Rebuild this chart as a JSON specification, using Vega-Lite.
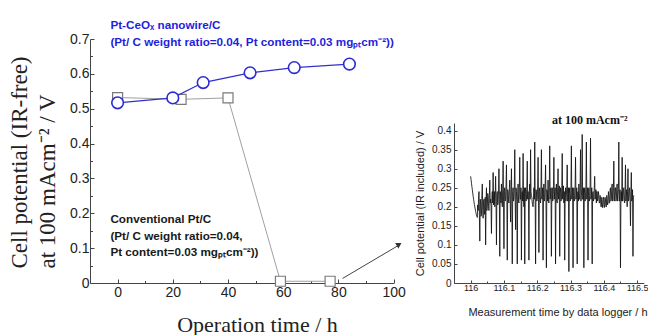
{
  "$schema": "https://vega.github.io/schema/vega-lite/v6.json",
  "padding": {"left": 8, "top": 20, "right": 0, "bottom": 0},
  "background": "white",
  "config": {"view": {"stroke": null}, "axis": {"labelOverlap": false, "grid": false}},
  "bounds": "flush",
  "spacing": 60,
  "datasets": {
    "main": [
      {"series": "Pt-CeOx nanowire/C", "t": 0, "v": 0.517},
      {"series": "Pt-CeOx nanowire/C", "t": 20, "v": 0.531},
      {"series": "Pt-CeOx nanowire/C", "t": 31, "v": 0.575},
      {"series": "Pt-CeOx nanowire/C", "t": 48, "v": 0.603},
      {"series": "Pt-CeOx nanowire/C", "t": 64, "v": 0.618},
      {"series": "Pt-CeOx nanowire/C", "t": 84, "v": 0.628},
      {"series": "Conventional Pt/C", "t": 0, "v": 0.532},
      {"series": "Conventional Pt/C", "t": 23, "v": 0.527},
      {"series": "Conventional Pt/C", "t": 40, "v": 0.531},
      {"series": "Conventional Pt/C", "t": 59, "v": 0.005},
      {"series": "Conventional Pt/C", "t": 77, "v": 0.005}
    ],
    "logger": [
      {"t": 116.00000, "v": 0.280}, {"t": 116.00125, "v": 0.271}, {"t": 116.00250, "v": 0.262}, {"t": 116.00375, "v": 0.253},
      {"t": 116.00500, "v": 0.245}, {"t": 116.00625, "v": 0.236}, {"t": 116.00750, "v": 0.228}, {"t": 116.00875, "v": 0.220},
      {"t": 116.01000, "v": 0.213}, {"t": 116.01125, "v": 0.206}, {"t": 116.01250, "v": 0.200}, {"t": 116.01375, "v": 0.194},
      {"t": 116.01500, "v": 0.188}, {"t": 116.01625, "v": 0.183}, {"t": 116.01750, "v": 0.178}, {"t": 116.01875, "v": 0.175},
      {"t": 116.02000, "v": 0.172}, {"t": 116.02125, "v": 0.205}, {"t": 116.02250, "v": 0.19}, {"t": 116.02375, "v": 0.22},
      {"t": 116.02500, "v": 0.24}, {"t": 116.02625, "v": 0.18}, {"t": 116.02750, "v": 0.11}, {"t": 116.02875, "v": 0.22},
      {"t": 116.03000, "v": 0.21}, {"t": 116.03125, "v": 0.175}, {"t": 116.03250, "v": 0.18}, {"t": 116.03375, "v": 0.23},
      {"t": 116.03500, "v": 0.26}, {"t": 116.03625, "v": 0.19}, {"t": 116.03750, "v": 0.17}, {"t": 116.03875, "v": 0.215},
      {"t": 116.04000, "v": 0.22}, {"t": 116.04125, "v": 0.18}, {"t": 116.04250, "v": 0.19}, {"t": 116.04375, "v": 0.225},
      {"t": 116.04500, "v": 0.10}, {"t": 116.04625, "v": 0.21}, {"t": 116.04750, "v": 0.25}, {"t": 116.04875, "v": 0.19},
      {"t": 116.05000, "v": 0.20}, {"t": 116.05125, "v": 0.235}, {"t": 116.05250, "v": 0.23}, {"t": 116.05375, "v": 0.20},
      {"t": 116.05500, "v": 0.19}, {"t": 116.05625, "v": 0.23}, {"t": 116.05750, "v": 0.27}, {"t": 116.05875, "v": 0.21},
      {"t": 116.06000, "v": 0.22}, {"t": 116.06125, "v": 0.20}, {"t": 116.06250, "v": 0.13}, {"t": 116.06375, "v": 0.225},
      {"t": 116.06500, "v": 0.24}, {"t": 116.06625, "v": 0.21}, {"t": 116.06750, "v": 0.29}, {"t": 116.06875, "v": 0.205},
      {"t": 116.07000, "v": 0.21}, {"t": 116.07125, "v": 0.24}, {"t": 116.07250, "v": 0.20}, {"t": 116.07375, "v": 0.23},
      {"t": 116.07500, "v": 0.28}, {"t": 116.07625, "v": 0.21}, {"t": 116.07750, "v": 0.10}, {"t": 116.07875, "v": 0.235},
      {"t": 116.08000, "v": 0.24}, {"t": 116.08125, "v": 0.205}, {"t": 116.08250, "v": 0.21}, {"t": 116.08375, "v": 0.245},
      {"t": 116.08500, "v": 0.30}, {"t": 116.08625, "v": 0.22}, {"t": 116.08750, "v": 0.07}, {"t": 116.08875, "v": 0.24},
      {"t": 116.09000, "v": 0.23}, {"t": 116.09125, "v": 0.21}, {"t": 116.09250, "v": 0.26}, {"t": 116.09375, "v": 0.22},
      {"t": 116.09500, "v": 0.20}, {"t": 116.09625, "v": 0.245}, {"t": 116.09750, "v": 0.32}, {"t": 116.09875, "v": 0.215},
      {"t": 116.10000, "v": 0.09}, {"t": 116.10125, "v": 0.24}, {"t": 116.10250, "v": 0.25}, {"t": 116.10375, "v": 0.215},
      {"t": 116.10500, "v": 0.22}, {"t": 116.10625, "v": 0.255}, {"t": 116.10750, "v": 0.31}, {"t": 116.10875, "v": 0.22},
      {"t": 116.11000, "v": 0.06}, {"t": 116.11125, "v": 0.245}, {"t": 116.11250, "v": 0.24}, {"t": 116.11375, "v": 0.215},
      {"t": 116.11500, "v": 0.21}, {"t": 116.11625, "v": 0.25}, {"t": 116.11750, "v": 0.27}, {"t": 116.11875, "v": 0.22},
      {"t": 116.12000, "v": 0.16}, {"t": 116.12125, "v": 0.245}, {"t": 116.12250, "v": 0.30}, {"t": 116.12375, "v": 0.215},
      {"t": 116.12500, "v": 0.05}, {"t": 116.12625, "v": 0.24}, {"t": 116.12750, "v": 0.25}, {"t": 116.12875, "v": 0.215},
      {"t": 116.13000, "v": 0.22}, {"t": 116.13125, "v": 0.255}, {"t": 116.13250, "v": 0.35}, {"t": 116.13375, "v": 0.22},
      {"t": 116.13500, "v": 0.14}, {"t": 116.13625, "v": 0.25}, {"t": 116.13750, "v": 0.24}, {"t": 116.13875, "v": 0.215},
      {"t": 116.14000, "v": 0.05}, {"t": 116.14125, "v": 0.235}, {"t": 116.14250, "v": 0.26}, {"t": 116.14375, "v": 0.215},
      {"t": 116.14500, "v": 0.21}, {"t": 116.14625, "v": 0.25}, {"t": 116.14750, "v": 0.33}, {"t": 116.14875, "v": 0.22},
      {"t": 116.15000, "v": 0.22}, {"t": 116.15125, "v": 0.25}, {"t": 116.15250, "v": 0.06}, {"t": 116.15375, "v": 0.23},
      {"t": 116.15500, "v": 0.24}, {"t": 116.15625, "v": 0.215}, {"t": 116.15750, "v": 0.34}, {"t": 116.15875, "v": 0.22},
      {"t": 116.16000, "v": 0.20}, {"t": 116.16125, "v": 0.25}, {"t": 116.16250, "v": 0.05}, {"t": 116.16375, "v": 0.235},
      {"t": 116.16500, "v": 0.25}, {"t": 116.16625, "v": 0.215}, {"t": 116.16750, "v": 0.22}, {"t": 116.16875, "v": 0.255},
      {"t": 116.17000, "v": 0.32}, {"t": 116.17125, "v": 0.22}, {"t": 116.17250, "v": 0.24}, {"t": 116.17375, "v": 0.215},
      {"t": 116.17500, "v": 0.06}, {"t": 116.17625, "v": 0.24}, {"t": 116.17750, "v": 0.26}, {"t": 116.17875, "v": 0.22},
      {"t": 116.18000, "v": 0.35}, {"t": 116.18125, "v": 0.24}, {"t": 116.18250, "v": 0.23}, {"t": 116.18375, "v": 0.225},
      {"t": 116.18500, "v": 0.21}, {"t": 116.18625, "v": 0.205}, {"t": 116.18750, "v": 0.20}, {"t": 116.18875, "v": 0.22},
      {"t": 116.19000, "v": 0.25}, {"t": 116.19125, "v": 0.22}, {"t": 116.19250, "v": 0.37}, {"t": 116.19375, "v": 0.225},
      {"t": 116.19500, "v": 0.05}, {"t": 116.19625, "v": 0.245}, {"t": 116.19750, "v": 0.24}, {"t": 116.19875, "v": 0.215},
      {"t": 116.20000, "v": 0.22}, {"t": 116.20125, "v": 0.255}, {"t": 116.20250, "v": 0.33}, {"t": 116.20375, "v": 0.22},
      {"t": 116.20500, "v": 0.08}, {"t": 116.20625, "v": 0.24}, {"t": 116.20750, "v": 0.25}, {"t": 116.20875, "v": 0.215},
      {"t": 116.21000, "v": 0.21}, {"t": 116.21125, "v": 0.255}, {"t": 116.21250, "v": 0.35}, {"t": 116.21375, "v": 0.22},
      {"t": 116.21500, "v": 0.23}, {"t": 116.21625, "v": 0.25}, {"t": 116.21750, "v": 0.06}, {"t": 116.21875, "v": 0.235},
      {"t": 116.22000, "v": 0.26}, {"t": 116.22125, "v": 0.215}, {"t": 116.22250, "v": 0.22}, {"t": 116.22375, "v": 0.255},
      {"t": 116.22500, "v": 0.31}, {"t": 116.22625, "v": 0.22}, {"t": 116.22750, "v": 0.04}, {"t": 116.22875, "v": 0.245},
      {"t": 116.23000, "v": 0.24}, {"t": 116.23125, "v": 0.215}, {"t": 116.23250, "v": 0.27}, {"t": 116.23375, "v": 0.22},
      {"t": 116.23500, "v": 0.21}, {"t": 116.23625, "v": 0.25}, {"t": 116.23750, "v": 0.36}, {"t": 116.23875, "v": 0.22},
      {"t": 116.24000, "v": 0.23}, {"t": 116.24125, "v": 0.25}, {"t": 116.24250, "v": 0.07}, {"t": 116.24375, "v": 0.235},
      {"t": 116.24500, "v": 0.25}, {"t": 116.24625, "v": 0.215}, {"t": 116.24750, "v": 0.22}, {"t": 116.24875, "v": 0.255},
      {"t": 116.25000, "v": 0.33}, {"t": 116.25125, "v": 0.22}, {"t": 116.25250, "v": 0.24}, {"t": 116.25375, "v": 0.25},
      {"t": 116.25500, "v": 0.05}, {"t": 116.25625, "v": 0.23}, {"t": 116.25750, "v": 0.26}, {"t": 116.25875, "v": 0.215},
      {"t": 116.26000, "v": 0.21}, {"t": 116.26125, "v": 0.25}, {"t": 116.26250, "v": 0.30}, {"t": 116.26375, "v": 0.22},
      {"t": 116.26500, "v": 0.23}, {"t": 116.26625, "v": 0.255}, {"t": 116.26750, "v": 0.07}, {"t": 116.26875, "v": 0.235},
      {"t": 116.27000, "v": 0.25}, {"t": 116.27125, "v": 0.215}, {"t": 116.27250, "v": 0.22}, {"t": 116.27375, "v": 0.255},
      {"t": 116.27500, "v": 0.34}, {"t": 116.27625, "v": 0.22}, {"t": 116.27750, "v": 0.24}, {"t": 116.27875, "v": 0.255},
      {"t": 116.28000, "v": 0.21}, {"t": 116.28125, "v": 0.24}, {"t": 116.28250, "v": 0.06}, {"t": 116.28375, "v": 0.225},
      {"t": 116.28500, "v": 0.25}, {"t": 116.28625, "v": 0.215}, {"t": 116.28750, "v": 0.23}, {"t": 116.28875, "v": 0.255},
      {"t": 116.29000, "v": 0.31}, {"t": 116.29125, "v": 0.215}, {"t": 116.29250, "v": 0.22}, {"t": 116.29375, "v": 0.25},
      {"t": 116.29500, "v": 0.03}, {"t": 116.29625, "v": 0.235}, {"t": 116.29750, "v": 0.25}, {"t": 116.29875, "v": 0.215},
      {"t": 116.30000, "v": 0.22}, {"t": 116.30125, "v": 0.255}, {"t": 116.30250, "v": 0.36}, {"t": 116.30375, "v": 0.22},
      {"t": 116.30500, "v": 0.24}, {"t": 116.30625, "v": 0.25}, {"t": 116.30750, "v": 0.04}, {"t": 116.30875, "v": 0.23},
      {"t": 116.31000, "v": 0.25}, {"t": 116.31125, "v": 0.215}, {"t": 116.31250, "v": 0.22}, {"t": 116.31375, "v": 0.255},
      {"t": 116.31500, "v": 0.33}, {"t": 116.31625, "v": 0.22}, {"t": 116.31750, "v": 0.23}, {"t": 116.31875, "v": 0.25},
      {"t": 116.32000, "v": 0.05}, {"t": 116.32125, "v": 0.235}, {"t": 116.32250, "v": 0.24}, {"t": 116.32375, "v": 0.215},
      {"t": 116.32500, "v": 0.26}, {"t": 116.32625, "v": 0.22}, {"t": 116.32750, "v": 0.22}, {"t": 116.32875, "v": 0.255},
      {"t": 116.33000, "v": 0.35}, {"t": 116.33125, "v": 0.215}, {"t": 116.33250, "v": 0.23}, {"t": 116.33375, "v": 0.25},
      {"t": 116.33500, "v": 0.39}, {"t": 116.33625, "v": 0.22}, {"t": 116.33750, "v": 0.22}, {"t": 116.33875, "v": 0.25},
      {"t": 116.34000, "v": 0.04}, {"t": 116.34125, "v": 0.235}, {"t": 116.34250, "v": 0.25}, {"t": 116.34375, "v": 0.215},
      {"t": 116.34500, "v": 0.23}, {"t": 116.34625, "v": 0.255}, {"t": 116.34750, "v": 0.37}, {"t": 116.34875, "v": 0.22},
      {"t": 116.35000, "v": 0.24}, {"t": 116.35125, "v": 0.25}, {"t": 116.35250, "v": 0.06}, {"t": 116.35375, "v": 0.23},
      {"t": 116.35500, "v": 0.25}, {"t": 116.35625, "v": 0.215}, {"t": 116.35750, "v": 0.22}, {"t": 116.35875, "v": 0.255},
      {"t": 116.36000, "v": 0.38}, {"t": 116.36125, "v": 0.22}, {"t": 116.36250, "v": 0.23}, {"t": 116.36375, "v": 0.25},
      {"t": 116.36500, "v": 0.05}, {"t": 116.36625, "v": 0.235}, {"t": 116.36750, "v": 0.24}, {"t": 116.36875, "v": 0.215},
      {"t": 116.37000, "v": 0.22}, {"t": 116.37125, "v": 0.25}, {"t": 116.37250, "v": 0.28}, {"t": 116.37375, "v": 0.22},
      {"t": 116.37500, "v": 0.23}, {"t": 116.37625, "v": 0.245}, {"t": 116.37750, "v": 0.21}, {"t": 116.37875, "v": 0.24},
      {"t": 116.38000, "v": 0.24}, {"t": 116.38125, "v": 0.215}, {"t": 116.38250, "v": 0.22}, {"t": 116.38375, "v": 0.24},
      {"t": 116.38500, "v": 0.23}, {"t": 116.38625, "v": 0.21}, {"t": 116.38750, "v": 0.21}, {"t": 116.38875, "v": 0.23},
      {"t": 116.39000, "v": 0.22}, {"t": 116.39125, "v": 0.20}, {"t": 116.39250, "v": 0.20}, {"t": 116.39375, "v": 0.225},
      {"t": 116.39500, "v": 0.215}, {"t": 116.39625, "v": 0.198}, {"t": 116.39750, "v": 0.205}, {"t": 116.39875, "v": 0.225},
      {"t": 116.40000, "v": 0.22}, {"t": 116.40125, "v": 0.198}, {"t": 116.40250, "v": 0.205}, {"t": 116.40375, "v": 0.225},
      {"t": 116.40500, "v": 0.215}, {"t": 116.40625, "v": 0.20}, {"t": 116.40750, "v": 0.20}, {"t": 116.40875, "v": 0.23},
      {"t": 116.41000, "v": 0.22}, {"t": 116.41125, "v": 0.205}, {"t": 116.41250, "v": 0.21}, {"t": 116.41375, "v": 0.24},
      {"t": 116.41500, "v": 0.23}, {"t": 116.41625, "v": 0.21}, {"t": 116.41750, "v": 0.21}, {"t": 116.41875, "v": 0.245},
      {"t": 116.42000, "v": 0.25}, {"t": 116.42125, "v": 0.215}, {"t": 116.42250, "v": 0.22}, {"t": 116.42375, "v": 0.25},
      {"t": 116.42500, "v": 0.26}, {"t": 116.42625, "v": 0.215}, {"t": 116.42750, "v": 0.22}, {"t": 116.42875, "v": 0.25},
      {"t": 116.43000, "v": 0.32}, {"t": 116.43125, "v": 0.215}, {"t": 116.43250, "v": 0.23}, {"t": 116.43375, "v": 0.25},
      {"t": 116.43500, "v": 0.25}, {"t": 116.43625, "v": 0.215}, {"t": 116.43750, "v": 0.22}, {"t": 116.43875, "v": 0.25},
      {"t": 116.44000, "v": 0.26}, {"t": 116.44125, "v": 0.215}, {"t": 116.44250, "v": 0.23}, {"t": 116.44375, "v": 0.245},
      {"t": 116.44500, "v": 0.37}, {"t": 116.44625, "v": 0.215}, {"t": 116.44750, "v": 0.22}, {"t": 116.44875, "v": 0.245},
      {"t": 116.45000, "v": 0.04}, {"t": 116.45125, "v": 0.22}, {"t": 116.45250, "v": 0.24}, {"t": 116.45375, "v": 0.215},
      {"t": 116.45500, "v": 0.33}, {"t": 116.45625, "v": 0.215}, {"t": 116.45750, "v": 0.22}, {"t": 116.45875, "v": 0.245},
      {"t": 116.46000, "v": 0.25}, {"t": 116.46125, "v": 0.215}, {"t": 116.46250, "v": 0.21}, {"t": 116.46375, "v": 0.245},
      {"t": 116.46500, "v": 0.31}, {"t": 116.46625, "v": 0.215}, {"t": 116.46750, "v": 0.23}, {"t": 116.46875, "v": 0.245},
      {"t": 116.47000, "v": 0.20}, {"t": 116.47125, "v": 0.24}, {"t": 116.47250, "v": 0.30}, {"t": 116.47375, "v": 0.215},
      {"t": 116.47500, "v": 0.22}, {"t": 116.47625, "v": 0.245}, {"t": 116.47750, "v": 0.25}, {"t": 116.47875, "v": 0.215},
      {"t": 116.48000, "v": 0.15}, {"t": 116.48125, "v": 0.24}, {"t": 116.48250, "v": 0.29}, {"t": 116.48375, "v": 0.215},
      {"t": 116.48500, "v": 0.22}, {"t": 116.48625, "v": 0.245}, {"t": 116.48750, "v": 0.07}, {"t": 116.48875, "v": 0.225},
      {"t": 116.49000, "v": 0.23}
    ]
  },
  "hconcat": [
    {
      "width": 303.6,
      "height": 244,
      "resolve": {"axis": {"x": "independent", "y": "independent"}},
      "layer": [
        {
          "data": {"name": "main"},
          "transform": [{"filter": "datum.series == 'Conventional Pt/C'"}],
          "mark": {"type": "line", "color": "#a0a0a0", "strokeWidth": 1},
          "encoding": {
            "x": {
              "field": "t", "type": "quantitative",
              "scale": {"domain": [-10, 100], "nice": false, "zero": false},
              "axis": {
                "orient": "bottom",
                "values": [0, 20, 40, 60, 80, 100],
                "grid": false, "tickSize": -4, "labelPadding": 6,
                "labelFont": "Liberation Sans", "labelFontSize": 14, "labelColor": "#222",
                "domainColor": "#444", "tickColor": "#444", "labelFlush": false, "labelOverlap": false,
                "title": "Operation time / h",
                "titleFont": "Liberation Serif", "titleFontSize": 22, "titleFontWeight": "normal", "titleColor": "#222",
                "titleX": 167, "titleY": 48, "titleAlign": "center", "titleBaseline": "alphabetic"
              }
            },
            "y": {
              "field": "v", "type": "quantitative",
              "scale": {"domain": [0, 0.7], "nice": false, "zero": false},
              "axis": {
                "orient": "left",
                "values": [0, 0.1, 0.2, 0.3, 0.4, 0.5, 0.6, 0.7],
                "labelExpr": "format(datum.value, '~g')",
                "grid": false, "tickSize": -4, "labelPadding": 5,
                "labelFont": "Liberation Sans", "labelFontSize": 14, "labelColor": "#222",
                "domainColor": "#444", "tickColor": "#444", "labelFlush": false, "labelOverlap": false,
                "title": ["Cell potential (IR-free)", "at 100 mAcm⁻² / V"],
                "titleFont": "Liberation Serif", "titleFontSize": 23, "titleFontWeight": "normal", "titleColor": "#222",
                "titleAngle": -90, "titleAlign": "left", "titleBaseline": "alphabetic",
                "titleX": -64, "titleY": 229, "titleLineHeight": 28
              }
            }
          }
        },
        {
          "data": {"name": "main"},
          "transform": [{"filter": "datum.series == 'Conventional Pt/C'"}],
          "mark": {"type": "point", "shape": "square", "size": 100, "stroke": "#7a7a7a", "fill": "white", "fillOpacity": 1, "strokeWidth": 1.2, "opacity": 1},
          "encoding": {
            "x": {"field": "t", "type": "quantitative",
              "axis": {"orient": "bottom", "values": [10, 30, 50, 70, 90], "labels": false, "domain": false, "tickSize": -2.5, "tickColor": "#444", "title": null, "grid": false}},
            "y": {"field": "v", "type": "quantitative",
              "axis": {"orient": "left", "values": [0.05, 0.15, 0.25, 0.35, 0.45, 0.55, 0.65], "labels": false, "domain": false, "tickSize": -2.5, "tickColor": "#444", "title": null, "grid": false}}
          }
        },
        {
          "data": {"name": "main"},
          "transform": [{"filter": "datum.series == 'Pt-CeOx nanowire/C'"}],
          "mark": {"type": "line", "color": "#3030cc", "strokeWidth": 1.2},
          "encoding": {"x": {"field": "t", "type": "quantitative", "axis": null}, "y": {"field": "v", "type": "quantitative", "axis": null}}
        },
        {
          "data": {"name": "main"},
          "transform": [{"filter": "datum.series == 'Pt-CeOx nanowire/C'"}],
          "mark": {"type": "point", "shape": "circle", "size": 135, "stroke": "#2a2ad6", "fill": "white", "fillOpacity": 1, "strokeWidth": 1.6, "opacity": 1},
          "encoding": {"x": {"field": "t", "type": "quantitative", "axis": null}, "y": {"field": "v", "type": "quantitative", "axis": null}}
        },
        {
          "data": {"values": [{}]},
          "mark": {"type": "text", "text": ["Pt-CeOₓ nanowire/C", "(Pt/ C weight ratio=0.04, Pt content=0.03 mgₚₜcm⁻²))"],
            "align": "left", "baseline": "alphabetic", "lineHeight": 17,
            "font": "Liberation Sans", "fontSize": 11.7, "fontWeight": "bold", "color": "#1f1fe0"},
          "encoding": {"x": {"datum": -2.6, "axis": null}, "y": {"datum": 0.728, "axis": null}}
        },
        {
          "data": {"values": [{}]},
          "mark": {"type": "text", "text": ["Conventional Pt/C", "(Pt/ C weight ratio=0.04,", "Pt content=0.03 mgₚₜcm⁻²))"],
            "align": "left", "baseline": "alphabetic", "lineHeight": 16.7,
            "font": "Liberation Sans", "fontSize": 11.7, "fontWeight": "bold", "color": "#1a1a1a"},
          "encoding": {"x": {"datum": -2.6, "axis": null}, "y": {"datum": 0.172, "axis": null}}
        },
        {
          "data": {"values": [{}]},
          "mark": {"type": "rule", "color": "#444", "strokeWidth": 1},
          "encoding": {"x": {"datum": 81.5, "axis": null}, "y": {"datum": 0.013, "axis": null}, "x2": {"datum": 102}, "y2": {"datum": 0.109}}
        },
        {
          "data": {"values": [{}]},
          "mark": {"type": "point", "shape": "triangle-right", "angle": -31, "filled": true, "size": 40, "color": "#333", "opacity": 1},
          "encoding": {"x": {"datum": 102, "axis": null}, "y": {"datum": 0.111, "axis": null}}
        }
      ]
    },
    {
      "width": 189.8,
      "height": 244,
      "resolve": {"axis": {"x": "independent", "y": "independent"}},
      "layer": [
        {
          "data": {"name": "logger"},
          "mark": {"type": "line", "color": "#111", "strokeWidth": 0.85},
          "encoding": {
            "x": {
              "field": "t", "type": "quantitative",
              "scale": {"domain": [115.95, 116.52], "nice": false, "zero": false},
              "axis": {
                "orient": "bottom",
                "values": [116, 116.1, 116.2, 116.3, 116.4, 116.5],
                "labelExpr": "format(datum.value, '~g')",
                "grid": false, "tickSize": -3, "labelPadding": 3,
                "labelFont": "Liberation Sans", "labelFontSize": 9, "labelColor": "#222",
                "domainColor": "#444", "tickColor": "#444", "labelFlush": false, "labelOverlap": false,
                "title": "Measurement time by data logger / h",
                "titleFont": "Liberation Sans", "titleFontSize": 11, "titleFontWeight": "normal", "titleColor": "#222",
                "titleX": 103.5, "titleY": 32, "titleAlign": "center", "titleBaseline": "alphabetic"
              }
            },
            "y": {
              "field": "v", "type": "quantitative",
              "scale": {"domain": [0, 0.42], "nice": false, "zero": false, "range": [244, 84]},
              "axis": {
                "orient": "left",
                "values": [0, 0.05, 0.1, 0.15, 0.2, 0.25, 0.3, 0.35, 0.4],
                "labelExpr": "format(datum.value, '~g')",
                "grid": false, "tickSize": -3, "labelPadding": 6,
                "labelFont": "Liberation Sans", "labelFontSize": 10, "labelColor": "#222",
                "domainColor": "#444", "tickColor": "#444", "labelFlush": false, "labelOverlap": false,
                "title": "Cell potential (IR included) / V",
                "titleFont": "Liberation Sans", "titleFontSize": 11, "titleFontWeight": "normal", "titleColor": "#222",
                "titlePadding": 6
              }
            }
          }
        },
        {
          "data": {"values": [{}]},
          "mark": {"type": "text", "text": "at 100 mAcm⁻²", "align": "left", "baseline": "alphabetic",
            "font": "Liberation Serif", "fontSize": 12, "fontWeight": "bold", "color": "#111"},
          "encoding": {
            "x": {"datum": 116.244,
              "axis": {"orient": "bottom", "values": [116.05, 116.15, 116.25, 116.35, 116.45], "labels": false, "domain": false, "tickSize": -2, "tickColor": "#444", "title": null, "grid": false}},
            "y": {"datum": 0.418, "axis": null}
          }
        }
      ]
    }
  ]
}
